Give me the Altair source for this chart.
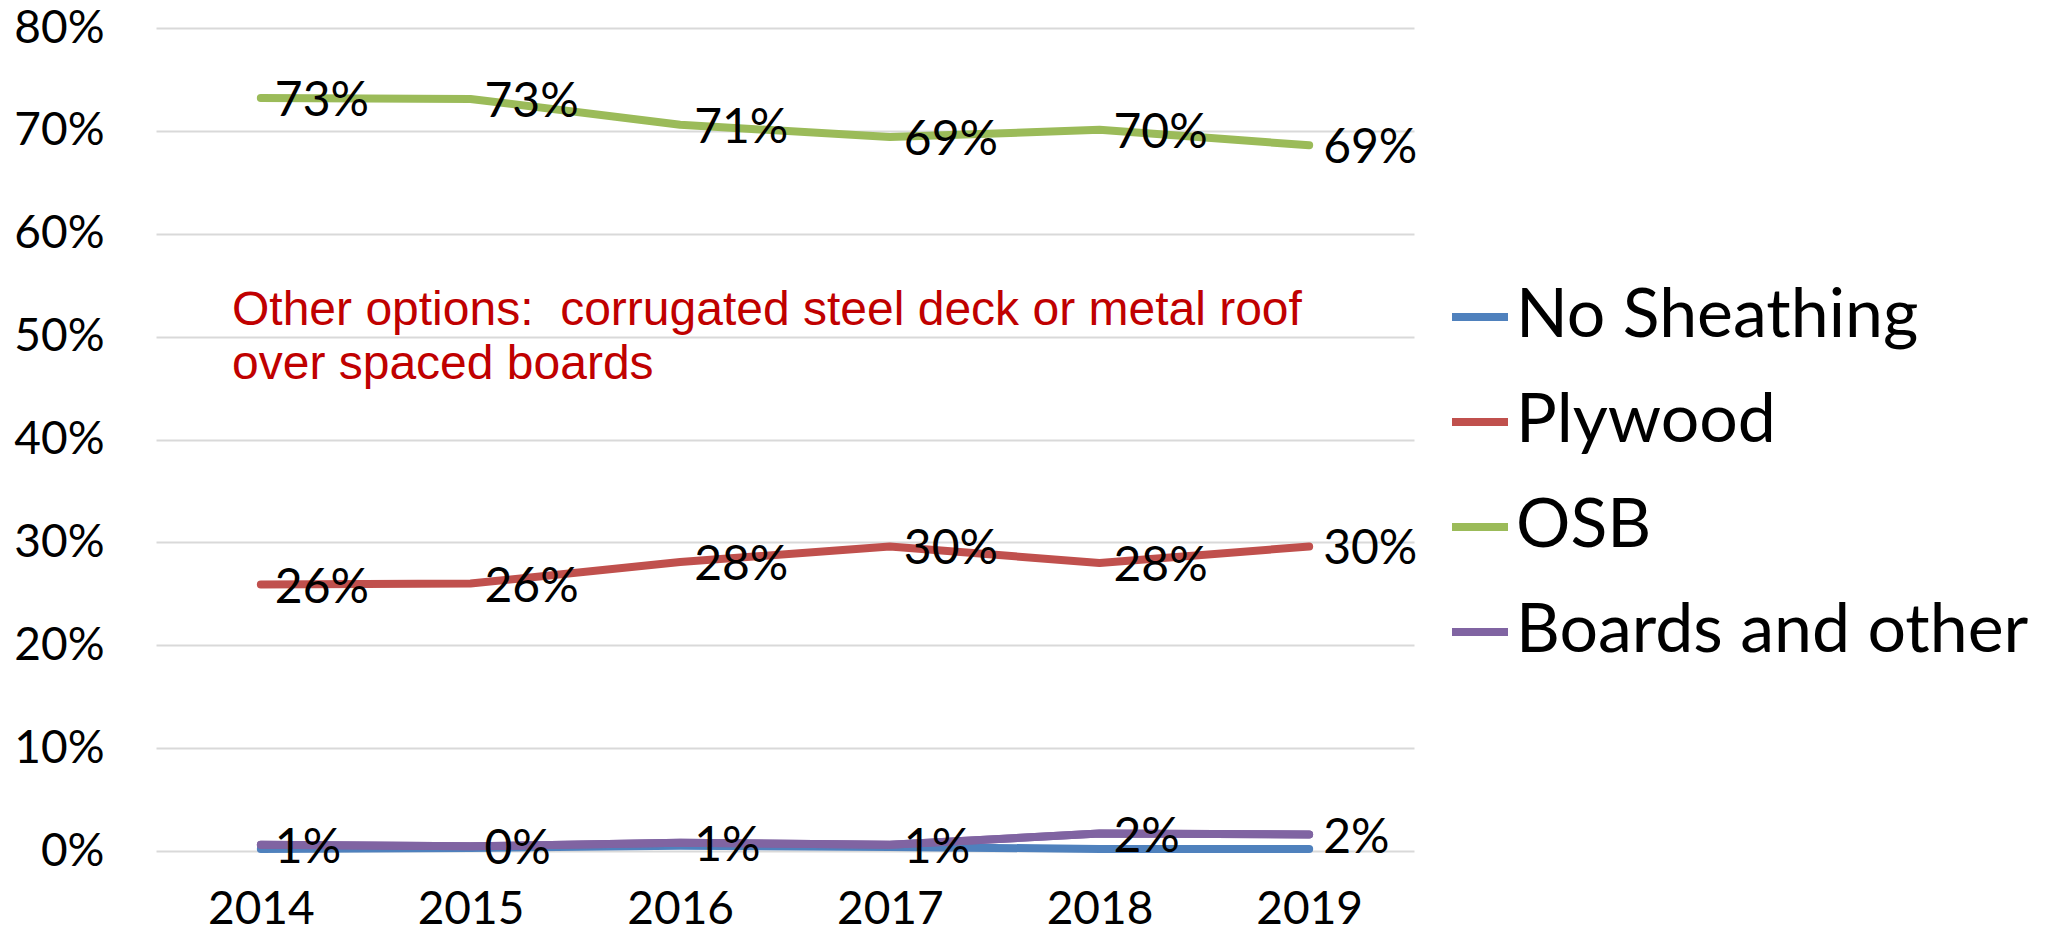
import altair as alt
import pandas as pd

years = ["2014", "2015", "2016", "2017", "2018", "2019"]
series_names = ["No Sheathing", "Plywood", "OSB", "Boards and other"]
no_sheathing = [0.2, 0.3, 0.5, 0.4, 0.2, 0.2]
plywood = [25.9, 26.0, 28.1, 29.6, 28.0, 29.6]
osb = [73.2, 73.1, 70.6, 69.4, 70.1, 68.6]
boards = [0.6, 0.45, 0.8, 0.6, 1.7, 1.6]
colors = ["#4F81BD", "#C0504D", "#9BBB59", "#8064A2"]
labelled = ["Plywood", "OSB", "Boards and other"]
y_ticks = [0, 10, 20, 30, 40, 50, 60, 70, 80]
note_lines = ["Other options:\u00a0 corrugated steel deck or metal roof", "over spaced boards"]

rows = []
for name, vals in zip(series_names, [no_sheathing, plywood, osb, boards]):
    for yr, v in zip(years, vals):
        rows.append({"year": yr, "series": name, "value": v})
df = pd.DataFrame(rows)

FONT = "Lato"

x = alt.X("year:O", scale=alt.Scale(domain=years, paddingInner=0, paddingOuter=0.5),
          axis=alt.Axis(title=None, labelAngle=0, ticks=False, domain=False,
                        labelFontSize=46, labelFont=FONT, labelColor="black",
                        labelPadding=36))
y = alt.Y("value:Q", scale=alt.Scale(domain=[0, 80]),
          axis=alt.Axis(title=None, values=y_ticks, labelExpr="datum.value + '%'",
                        ticks=False, domain=False, labelFontSize=46, labelFont=FONT,
                        labelColor="black", labelPadding=52, gridColor="#D9D9D9",
                        gridWidth=2))
color = alt.Color("series:N", scale=alt.Scale(domain=series_names, range=colors),
                  legend=alt.Legend(title=None, orient="none", legendX=1290, legendY=255,
                                    symbolType="stroke", symbolSize=3136,
                                    symbolStrokeWidth=8, labelFontSize=68,
                                    labelFont=FONT, labelColor="black", labelLimit=0,
                                    rowPadding=37, labelOffset=2, padding=0))

lines = alt.Chart(df).mark_line(strokeWidth=8, strokeCap="round", strokeJoin="round").encode(
    x=x, y=y, color=color, order=alt.Order("year:O")
)

top_line = alt.Chart(df).transform_filter(
    alt.datum.series == "Boards and other"
).mark_line(strokeWidth=8, strokeCap="round", strokeJoin="round").encode(
    x=x, y=y, color=alt.Color("series:N", scale=alt.Scale(domain=series_names, range=colors), legend=None)
)

labels = alt.Chart(df).transform_filter(
    alt.FieldOneOfPredicate(field="series", oneOf=labelled)
).transform_calculate(
    label="format(datum.value, '.0f') + '%'"
).mark_text(align="left", baseline="middle", dx=14, dy=4, fontSize=48, font=FONT,
            color="black").encode(x=x, y=y, text="label:N")

note_df = pd.DataFrame({"line": note_lines, "i": list(range(len(note_lines)))})
note = alt.Chart(note_df).transform_calculate(
    py="283 + datum.i * 54"
).mark_text(align="left", baseline="middle", fontSize=48, font="Liberation Sans",
            color="#C00000").encode(
    x=alt.value(76), y=alt.Y("py:Q", scale=None), text="line:N"
)

chart = alt.layer(lines, top_line, labels, note).properties(
    width=1258, height=823,
    padding={"left": 148, "top": 20, "right": 646, "bottom": 83},
    autosize=alt.AutoSizeParams(type="none"),
    background="white",
).configure_view(stroke=None)

chart.save("out.html", embed_options={"renderer": "svg", "actions": False})
